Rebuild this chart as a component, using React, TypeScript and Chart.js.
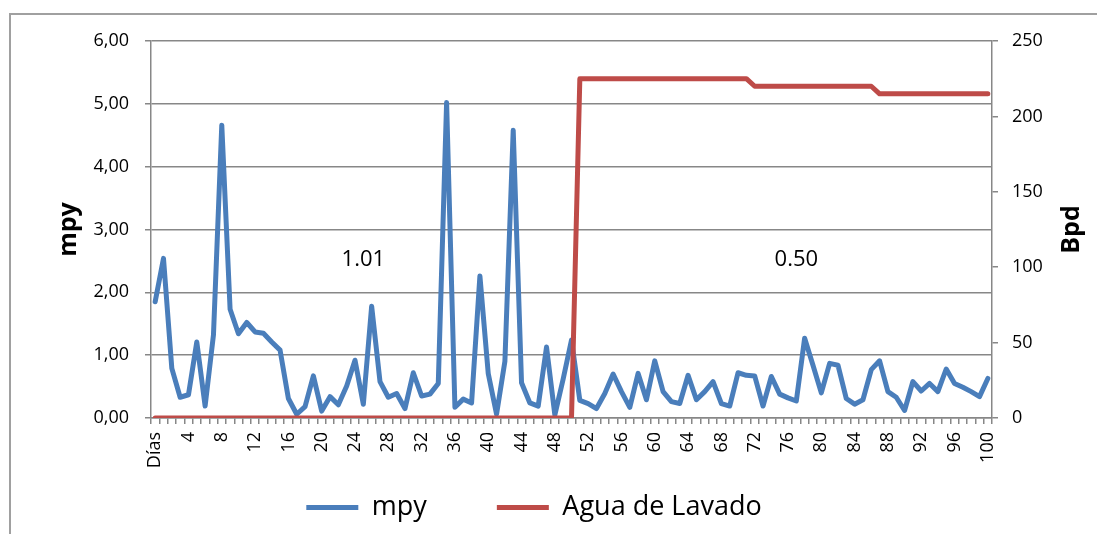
import React, { useEffect, useRef } from 'react';
import { Chart, registerables } from 'chart.js';

Chart.register(...registerables);

const days = [
  'Días', '1', '2', '3', '4', '5', '6', '7', '8', '9', '10',
  '11', '12', '13', '14', '15', '16', '17', '18', '19', '20',
  '21', '22', '23', '24', '25', '26', '27', '28', '29', '30',
  '31', '32', '33', '34', '35', '36', '37', '38', '39', '40',
  '41', '42', '43', '44', '45', '46', '47', '48', '49', '50',
  '51', '52', '53', '54', '55', '56', '57', '58', '59', '60',
  '61', '62', '63', '64', '65', '66', '67', '68', '69', '70',
  '71', '72', '73', '74', '75', '76', '77', '78', '79', '80',
  '81', '82', '83', '84', '85', '86', '87', '88', '89', '90',
  '91', '92', '93', '94', '95', '96', '97', '98', '99', '100',
];

const mpy = [
  1.85, 2.54, 0.79, 0.33, 0.37, 1.21, 0.19, 1.32, 4.66, 1.73,
  1.34, 1.52, 1.37, 1.35, 1.21, 1.08, 0.31, 0.06, 0.18, 0.67,
  0.11, 0.34, 0.21, 0.51, 0.92, 0.22, 1.78, 0.58, 0.33, 0.39,
  0.15, 0.72, 0.35, 0.38, 0.55, 5.02, 0.17, 0.30, 0.24, 2.26,
  0.71, 0.06, 0.90, 4.58, 0.56, 0.24, 0.19, 1.13, 0.05, 0.62,
  1.24, 0.28, 0.23, 0.15, 0.39, 0.70, 0.42, 0.17, 0.71, 0.29,
  0.91, 0.42, 0.26, 0.23, 0.68, 0.29, 0.42, 0.58, 0.23, 0.19,
  0.72, 0.68, 0.67, 0.19, 0.66, 0.38, 0.32, 0.27, 1.27, 0.84,
  0.40, 0.87, 0.84, 0.31, 0.22, 0.29, 0.77, 0.91, 0.42, 0.33,
  0.12, 0.58, 0.43, 0.55, 0.42, 0.78, 0.55, 0.49, 0.42, 0.34,
  0.63,
];

const aguaDeLavado = [
  0, 0, 0, 0, 0, 0, 0, 0, 0, 0,
  0, 0, 0, 0, 0, 0, 0, 0, 0, 0,
  0, 0, 0, 0, 0, 0, 0, 0, 0, 0,
  0, 0, 0, 0, 0, 0, 0, 0, 0, 0,
  0, 0, 0, 0, 0, 0, 0, 0, 0, 0,
  0, 225, 225, 225, 225, 225, 225, 225, 225, 225,
  225, 225, 225, 225, 225, 225, 225, 225, 225, 225,
  225, 225, 220, 220, 220, 220, 220, 220, 220, 220,
  220, 220, 220, 220, 220, 220, 220, 215, 215, 215,
  215, 215, 215, 215, 215, 215, 215, 215, 215, 215,
  215,
];

const seriesNames = ['mpy', 'Agua de Lavado'];
const leftTicksMax = 6;
const rightTicksMax = 250;

const noteTexts = ['1.01', '0.50'];
const noteDayIndex = [25, 77];
const noteValue = [2.52, 2.52];

const FONT = "'Open Sans', 'Noto Sans', sans-serif";
const GRID = '#878787';
const BLUE = '#4A7EBB';
const RED = '#BE4B48';
const X_FONT_SIZE = 18;

const overlayPlugin = {
  id: 'overlay',
  afterDatasetsDraw(chart: any) {
    const { ctx, chartArea, scales } = chart;
    ctx.save();
    ctx.fillStyle = '#000';
    ctx.textAlign = 'center';
    ctx.textBaseline = 'middle';
    ctx.font = `22px ${FONT}`;
    noteTexts.forEach((t, i) => {
      ctx.fillText(t, scales.x.getPixelForValue(noteDayIndex[i]), scales.y.getPixelForValue(noteValue[i]));
    });
    ctx.font = `bold 25px ${FONT}`;
    ctx.translate(chartArea.right + 80, (chartArea.top + chartArea.bottom) / 2);
    ctx.rotate(-Math.PI / 2);
    ctx.fillText('Bpd', 0, 0);
    ctx.restore();
  },
};

export default function App() {
  const ref = useRef<HTMLCanvasElement | null>(null);

  useEffect(() => {
    if (!ref.current) return;
    const chart = new Chart(ref.current, {
      type: 'line',
      data: {
        labels: days,
        datasets: [
          {
            label: seriesNames[0],
            data: mpy,
            yAxisID: 'y',
            borderColor: BLUE,
            backgroundColor: BLUE,
            borderWidth: 5,
            pointRadius: 0,
            tension: 0,
            borderJoinStyle: 'round',
            borderCapStyle: 'round',
            order: 1,
          },
          {
            label: seriesNames[1],
            data: aguaDeLavado,
            yAxisID: 'y1',
            borderColor: RED,
            backgroundColor: RED,
            borderWidth: 5,
            pointRadius: 0,
            tension: 0,
            borderJoinStyle: 'round',
            borderCapStyle: 'round',
            order: 0,
          },
        ],
      },
      options: {
        responsive: false,
        animation: false,
        devicePixelRatio: 1,
        layout: { padding: { top: 41, left: 0, right: 29, bottom: 3 } },
        plugins: {
          tooltip: { enabled: false },
          legend: {
            position: 'bottom',
            labels: {
              usePointStyle: true,
              pointStyle: 'line',
              pointStyleWidth: 52,
              padding: 70,
              color: '#000',
              font: { family: FONT, size: 27 },
              sort: (a: any, b: any) => a.datasetIndex - b.datasetIndex,
            },
          },
        },
        scales: {
          x: {
            type: 'category',
            offset: true,
            afterFit: (s: any) => { s.height = 6; },
            grid: {
              offset: true,
              drawOnChartArea: false,
              drawTicks: true,
              tickLength: 6,
              color: GRID,
              lineWidth: 1.5,
            },
            border: { display: true, color: GRID, width: 1.5 },
            ticks: {
              autoSkip: false,
              minRotation: 90,
              maxRotation: 90,
              mirror: true,
              padding: -14,
              labelOffset: X_FONT_SIZE * 1.2,
              color: '#000',
              font: { family: FONT, size: X_FONT_SIZE },
              callback: (_v: any, i: number) => (i % 4 === 0 ? days[i] : ''),
            },
          },
          y: {
            position: 'left',
            min: 0,
            max: leftTicksMax,
            afterFit: (s: any) => { s.width = 151; },
            title: {
              display: true,
              text: 'mpy',
              color: '#000',
              font: { family: FONT, size: 25, weight: 'bold' },
              padding: { top: 54, bottom: 0 },
            },
            grid: { color: GRID, lineWidth: 1.5, drawTicks: true, tickLength: 6 },
            border: { display: true, color: GRID, width: 1.5 },
            ticks: {
              stepSize: 1,
              padding: 16,
              color: '#000',
              font: { family: FONT, size: 18 },
              callback: (v: any) => Number(v).toFixed(2).replace('.', ','),
            },
          },
          y1: {
            position: 'right',
            min: 0,
            max: rightTicksMax,
            afterFit: (s: any) => { s.width = 76; },
            grid: { drawOnChartArea: false, color: GRID, lineWidth: 1.5, drawTicks: true, tickLength: 6 },
            border: { display: true, color: GRID, width: 1.5 },
            ticks: {
              stepSize: 50,
              padding: 14,
              color: '#000',
              font: { family: FONT, size: 18 },
            },
          },
        },
      },
      plugins: [overlayPlugin],
    } as any);
    return () => chart.destroy();
  }, []);

  return (
    <div style={{ position: 'fixed', left: 0, top: 0, width: 1097, height: 534, overflow: 'hidden', background: '#fff' }}>
      <canvas ref={ref} width={1097} height={534} style={{ position: 'absolute', left: 0, top: 0 }} />
      <div
        style={{
          position: 'absolute',
          left: 9,
          top: 13,
          width: 1200,
          height: 700,
          borderLeft: '2px solid #a0a0a0',
          borderTop: '2px solid #a0a0a0',
          pointerEvents: 'none',
        }}
      />
    </div>
  );
}
